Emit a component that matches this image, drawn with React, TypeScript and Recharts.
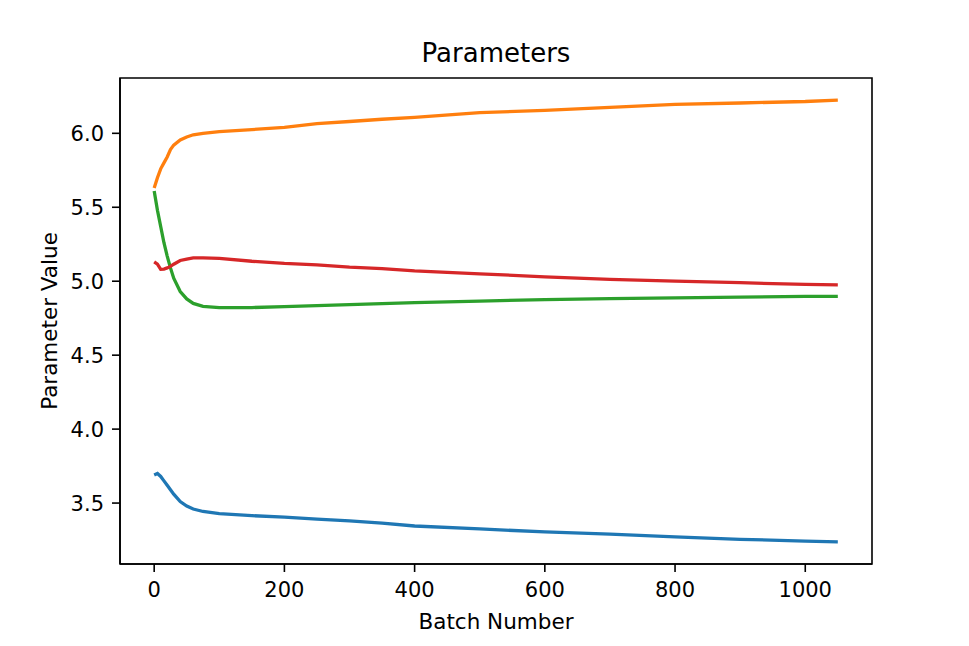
import { Line, LineChart, ReferenceArea, XAxis, YAxis } from "recharts";

const batches = [0, 5, 10, 15, 20, 25, 30, 40, 50, 60, 75, 100, 150, 200, 250, 300, 350, 400, 500, 600, 700, 800, 900, 1000, 1050];

const blueValues = [3.69, 3.7, 3.68, 3.65, 3.62, 3.59, 3.56, 3.51, 3.48, 3.46, 3.443, 3.428, 3.415, 3.405, 3.392, 3.38, 3.365, 3.345, 3.325, 3.305, 3.29, 3.272, 3.255, 3.243, 3.238];
const orangeValues = [5.63, 5.7, 5.76, 5.8, 5.84, 5.89, 5.92, 5.955, 5.975, 5.99, 6.0, 6.012, 6.025, 6.04, 6.065, 6.08, 6.095, 6.108, 6.14, 6.155, 6.175, 6.195, 6.205, 6.215, 6.225];
const greenValues = [5.61, 5.48, 5.37, 5.26, 5.17, 5.09, 5.02, 4.93, 4.88, 4.85, 4.83, 4.822, 4.822, 4.828, 4.835, 4.842, 4.848, 4.855, 4.866, 4.875, 4.882, 4.888, 4.893, 4.897, 4.898];
const redValues = [5.13, 5.115, 5.08, 5.082, 5.09, 5.1, 5.115, 5.14, 5.15, 5.158, 5.158, 5.155, 5.135, 5.12, 5.11, 5.095, 5.085, 5.07, 5.05, 5.03, 5.013, 5.0, 4.99, 4.978, 4.975];

const xTicks = [0, 200, 400, 600, 800, 1000];
const yTicks = [3.5, 4.0, 4.5, 5.0, 5.5, 6.0];

const data = batches.map((b, i) => ({
  batch: b,
  blue: blueValues[i],
  orange: orangeValues[i],
  green: greenValues[i],
  red: redValues[i],
}));

const X_DOMAIN: [number, number] = [-52.5, 1102.5];
const Y_DOMAIN: [number, number] = [3.088, 6.374];

const FONT = "DejaVu Sans, sans-serif";
const tickStyle = { fontSize: 21, fill: "#000", fontFamily: FONT };
const axisLine = { stroke: "#000", strokeWidth: 1.6 };

export default function App() {
  return (
    <div style={{ position: "absolute", left: 0, top: 0, width: 969, height: 646, background: "#fff" }}>
      <LineChart
        width={969}
        height={646}
        data={data}
        margin={{ top: 78, right: 97, left: 0, bottom: 0 }}
      >
        <XAxis
          dataKey="batch"
          type="number"
          domain={X_DOMAIN}
          ticks={xTicks}
          height={82}
          tick={tickStyle}
          tickSize={8}
          tickMargin={10}
          axisLine={axisLine}
          tickLine={{ stroke: "#000", strokeWidth: 1.6 }}
          allowDataOverflow
        />
        <YAxis
          type="number"
          domain={Y_DOMAIN}
          ticks={yTicks}
          width={120}
          tick={tickStyle}
          tickSize={8}
          tickMargin={8}
          tickFormatter={(v: number) => v.toFixed(1)}
          axisLine={axisLine}
          tickLine={{ stroke: "#000", strokeWidth: 1.6 }}
          allowDataOverflow
        />
        {/* frame around the plot area */}
        <ReferenceArea
          x1={X_DOMAIN[0]}
          x2={X_DOMAIN[1]}
          y1={Y_DOMAIN[0]}
          y2={Y_DOMAIN[1]}
          fill="none"
          fillOpacity={0}
          stroke="#000"
          strokeWidth={1.6}
          strokeOpacity={1}
          ifOverflow="visible"
        />
        <Line type="linear" dataKey="blue" stroke="#1f77b4" strokeWidth={3.3} dot={false} isAnimationActive={false} />
        <Line type="linear" dataKey="orange" stroke="#ff7f0e" strokeWidth={3.3} dot={false} isAnimationActive={false} />
        <Line type="linear" dataKey="green" stroke="#2ca02c" strokeWidth={3.3} dot={false} isAnimationActive={false} />
        <Line type="linear" dataKey="red" stroke="#d62728" strokeWidth={3.3} dot={false} isAnimationActive={false} />
        <text x={496} y={61.5} textAnchor="middle" fontSize={26} fontFamily={FONT} fill="#000">
          Parameters
        </text>
        <text x={496} y={628.5} textAnchor="middle" fontSize={21.5} fontFamily={FONT} fill="#000">
          Batch Number
        </text>
        <text
          x={57}
          y={321}
          textAnchor="middle"
          fontSize={21.5}
          fontFamily={FONT}
          fill="#000"
          transform="rotate(-90, 57, 321)"
        >
          Parameter Value
        </text>
      </LineChart>
    </div>
  );
}
